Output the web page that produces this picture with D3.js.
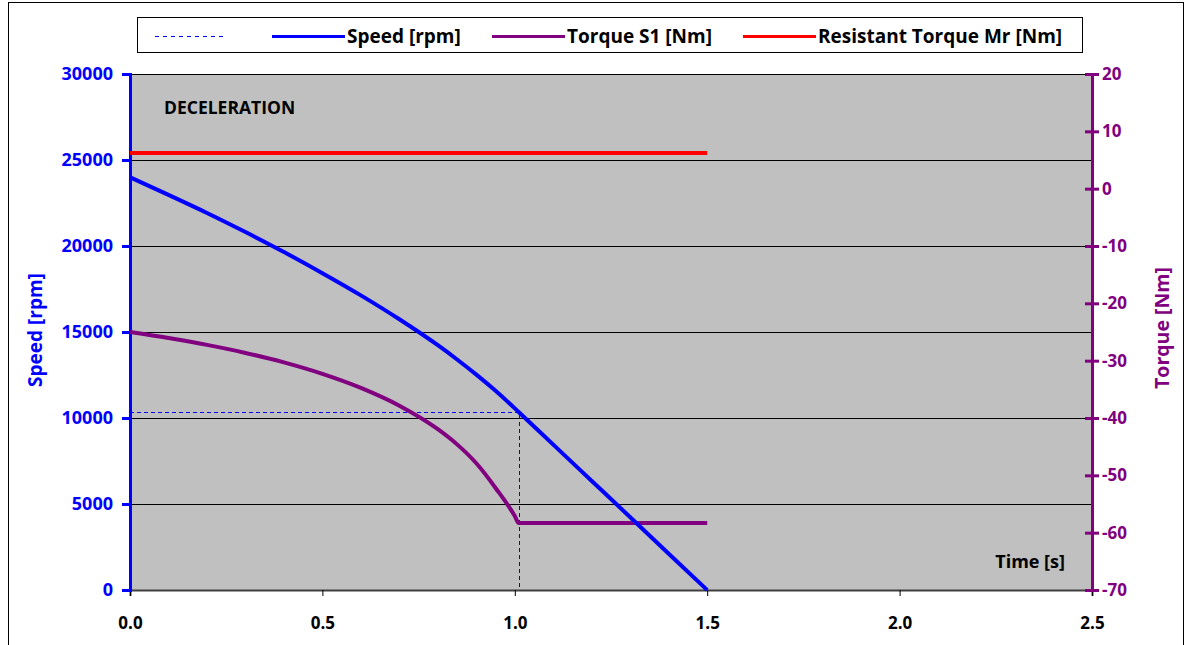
<!DOCTYPE html>
<html>
<head>
<meta charset="utf-8">
<script src="https://cdn.jsdelivr.net/npm/d3@7"></script>
<style>
    body { margin: 0; background: #fff; }
    #chart { width: 1194px; height: 645px; }
    text { font-family: 'Open Sans', Lato, sans-serif; font-weight: bold; }
</style>
</head>
<body>
<div id="chart"></div>
<script>
//Datos
const timeS = [0, 0.1, 0.2, 0.3, 0.4, 0.5, 0.6, 0.7, 0.8, 0.85, 0.9, 0.95, 1.0, 1.01, 1.1, 1.2, 1.3, 1.4, 1.5];
const speedRpm = [24000, 22970, 21920, 20810, 19650, 18420, 17130, 15740, 14230, 13400, 12520, 11580, 10560, 10350, 8450, 6340, 4230, 2110, 0];
const torqueS1 = [-25, -26.05, -27.25, -28.65, -30.3, -32.3, -34.75, -37.85, -41.95, -44.6, -47.9, -52.2, -57.1, -58.3, -58.3, -58.3, -58.3, -58.3, -58.3];
const mrTime = [0, 1.5];
const mrTorque = [6.2, 6.2];
const guideTime = 1.01, guideSpeed = 10350;

const xTicks = [0, 0.5, 1.0, 1.5, 2.0, 2.5];
const speedTicks = [0, 5000, 10000, 15000, 20000, 25000, 30000];
const torqueTicks = [20, 10, 0, -10, -20, -30, -40, -50, -60, -70];
const legendNames = ['', 'Speed [rpm]', 'Torque S1 [Nm]', 'Resistant Torque Mr [Nm]'];

//Colores fijos
const COLOR_SPEED = '#0000FF',
COLOR_TORQUE = '#800080',
COLOR_MR = '#FF0000',
COLOR_PLOT = '#C0C0C0';

let margin = {top: 74, right: 102, bottom: 55, left: 130},
    fullW = 1194, fullH = 645,
    width = fullW - margin.left - margin.right,
    height = fullH - margin.top - margin.bottom;

let root = d3.select('#chart')
    .append('svg')
      .attr('width', fullW)
      .attr('height', fullH);

//Marco exterior
root.append('rect')
    .attr('x', 8.5).attr('y', 2.5)
    .attr('width', 1175).attr('height', 660)
    .attr('fill', '#fff').attr('stroke', '#000').attr('stroke-width', 1);

let svg = root.append('g')
    .attr('transform', 'translate(' + margin.left + ',' + margin.top + ')');

let x = d3.scaleLinear().domain([0, 2.5]).range([0, width]);
let y = d3.scaleLinear().domain([0, 30000]).range([height, 0]);
let y2 = d3.scaleLinear().domain([-70, 20]).range([height, 0]);

svg.append('rect')
    .attr('width', width).attr('height', height)
    .attr('fill', COLOR_PLOT);

//Rejilla
svg.append('g')
    .selectAll('line')
    .data(speedTicks.filter(function(d) { return d > 0; }))
    .join('line')
    .attr('x1', 0).attr('x2', width)
    .attr('y1', function(d) { return Math.round(y(d)) + 0.5; })
    .attr('y2', function(d) { return Math.round(y(d)) + 0.5; })
    .attr('stroke', '#000').attr('stroke-width', 1);

//Eje X
let xAxis = function(g) {
    g.call(d3.axisBottom(x).tickValues(xTicks).tickSize(6).tickFormat(d3.format('.1f')));
    g.select('.domain').attr('stroke', '#404040').attr('stroke-width', 2);
    g.selectAll('.tick line').attr('stroke', '#000');
    g.selectAll('text').attr('dy', '1.75em').attr('font-size', 17).attr('fill', '#000');
}
svg.append('g')
    .attr('transform', 'translate(0,' + height + ')')
    .call(xAxis);

//Eje velocidad
let yAxis = function(g) {
    g.call(d3.axisLeft(y).tickValues(speedTicks).tickSize(8).tickPadding(9).tickFormat(function(d) { return String(d); }));
    g.select('.domain').attr('stroke', COLOR_SPEED).attr('stroke-width', 3);
    g.selectAll('.tick line').attr('stroke', COLOR_SPEED).attr('stroke-width', 3);
    g.selectAll('text').attr('font-size', 18).attr('fill', COLOR_SPEED);
}
svg.append('g').call(yAxis);

//Eje par
let y2Axis = function(g) {
    g.call(d3.axisRight(y2).tickValues(torqueTicks).tickSize(7).tickPadding(3).tickFormat(function(d) { return String(d); }));
    g.select('.domain').attr('stroke', COLOR_TORQUE).attr('stroke-width', 3);
    g.selectAll('.tick line').attr('x1', -7).attr('stroke', COLOR_TORQUE).attr('stroke-width', 3);
    g.selectAll('text').attr('font-size', 17).attr('fill', COLOR_TORQUE);
}
svg.append('g')
    .attr('transform', 'translate(' + width + ',0)')
    .call(y2Axis);

//Líneas guía discontinuas
let gy = Math.round(y(guideSpeed)) + 0.5,
    gx = Math.round(x(guideTime)) + 0.5;
svg.append('path')
    .attr('d', 'M0,' + gy + 'H' + gx + 'V' + height)
    .attr('fill', 'none')
    .attr('stroke', COLOR_SPEED).attr('stroke-width', 1)
    .attr('stroke-dasharray', '4,3');

//Series
let speedLine = d3.line()
    .x(function(d, i) { return x(timeS[i]); })
    .y(function(d) { return y(d); })
    .curve(d3.curveMonotoneX);

let torqueLine = d3.line()
    .x(function(d, i) { return x(timeS[i]); })
    .y(function(d) { return y2(d); })
    .curve(d3.curveMonotoneX);

let mrLine = d3.line()
    .x(function(d, i) { return x(mrTime[i]); })
    .y(function(d) { return y2(d); });

svg.append('path')
    .datum(mrTorque)
    .attr('d', mrLine)
    .attr('fill', 'none').attr('stroke', COLOR_MR).attr('stroke-width', 4);

svg.append('path')
    .datum(torqueS1)
    .attr('d', torqueLine)
    .attr('fill', 'none').attr('stroke', COLOR_TORQUE).attr('stroke-width', 4);

svg.append('path')
    .datum(speedRpm)
    .attr('d', speedLine)
    .attr('fill', 'none').attr('stroke', COLOR_SPEED).attr('stroke-width', 4);

//Textos
svg.append('text')
    .attr('x', 34).attr('y', 40)
    .attr('font-size', 17.5).attr('fill', '#000')
    .text('DECELERATION');

svg.append('text')
    .attr('x', width - 27).attr('y', height - 22)
    .attr('text-anchor', 'end')
    .attr('font-size', 18).attr('fill', '#000')
    .text('Time [s]');

root.append('text')
    .attr('transform', 'translate(42,' + (margin.top + height / 2 - 2) + ') rotate(-90)')
    .attr('text-anchor', 'middle')
    .attr('font-size', 19).attr('fill', COLOR_SPEED)
    .text('Speed [rpm]');

root.append('text')
    .attr('transform', 'translate(1169,' + (margin.top + height / 2 - 4) + ') rotate(-90)')
    .attr('text-anchor', 'middle')
    .attr('font-size', 19.5).attr('fill', COLOR_TORQUE)
    .text('Torque [Nm]');

//Leyenda
let legend = root.append('g');
legend.append('rect')
    .attr('x', 137.5).attr('y', 17.5)
    .attr('width', 945).attr('height', 35)
    .attr('fill', '#fff').attr('stroke', '#000');

let legendX = [155, 272, 492, 743];
let legendStyle = [
    {color: COLOR_SPEED, w: 1, dash: '4,4'},
    {color: COLOR_SPEED, w: 3, dash: null},
    {color: COLOR_TORQUE, w: 3, dash: null},
    {color: COLOR_MR, w: 3, dash: null}
];

legendNames.forEach(function(name, i) {
    legend.append('line')
        .attr('x1', legendX[i]).attr('x2', legendX[i] + (i == 0 ? 68 : 73))
        .attr('y1', 36.5).attr('y2', 36.5)
        .attr('stroke', legendStyle[i].color)
        .attr('stroke-width', legendStyle[i].w)
        .attr('stroke-dasharray', legendStyle[i].dash);
    legend.append('text')
        .attr('x', legendX[i] + 75).attr('y', 43)
        .attr('font-size', 19).attr('fill', '#000')
        .text(name);
});
</script>
</body>
</html>
